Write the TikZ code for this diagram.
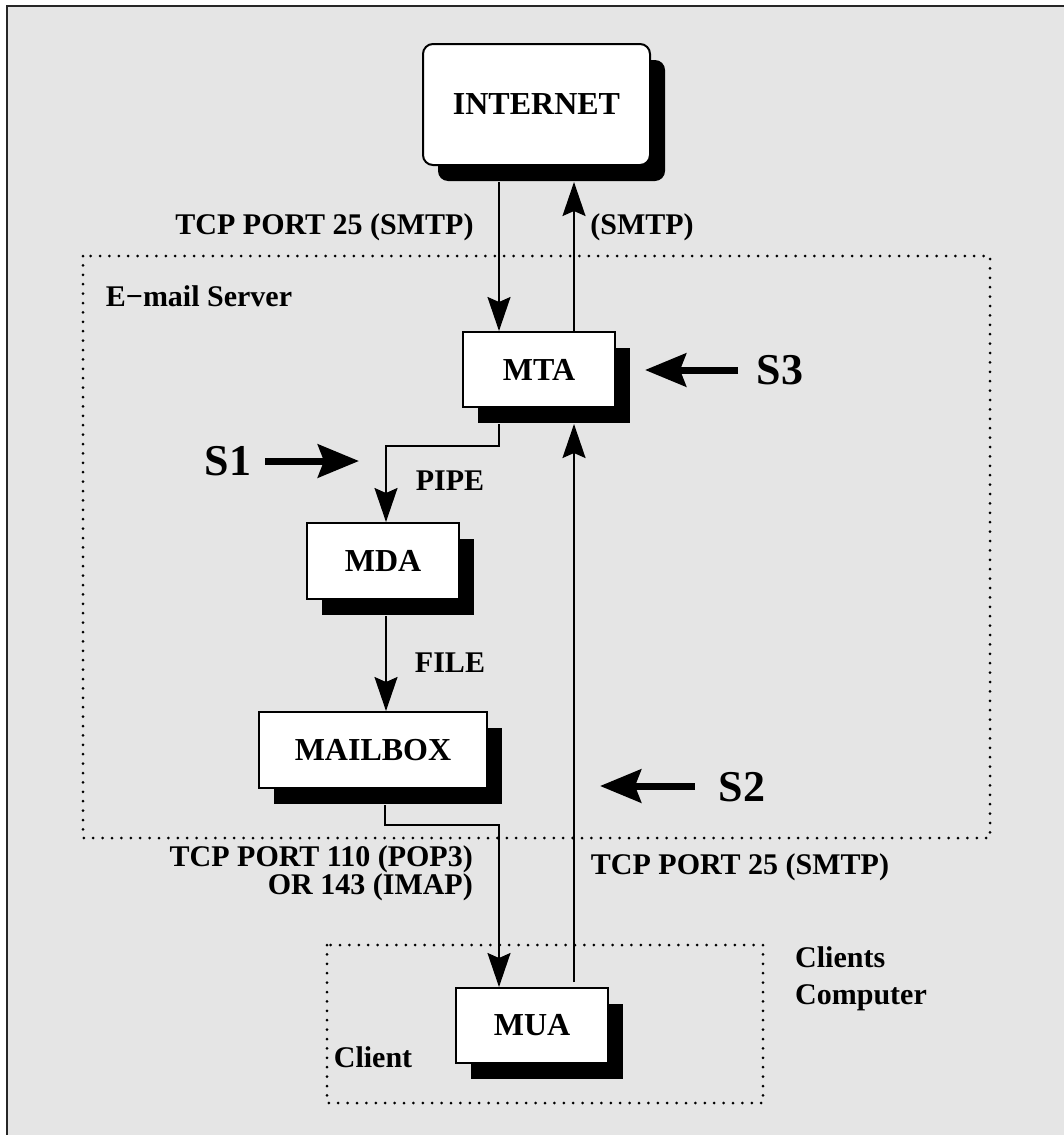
\documentclass[tikz,border=0pt]{standalone}
\usepackage{fontspec}
\setmainfont{Liberation Serif}
\usetikzlibrary{arrows.meta,shadows}
\definecolor{bg}{HTML}{E5E5E5}
\begin{document}
\begin{tikzpicture}[x=1pt,y=-1pt,
  box/.style={draw=black,line width=2pt,fill=white,
    font=\fontsize{32}{36}\selectfont\bfseries,
    minimum width=152pt,minimum height=76pt,inner sep=0pt,
    drop shadow={shadow xshift=15pt,shadow yshift=-16pt,fill=black,opacity=1,draw=none}},
  lbl/.style={font=\fontsize{30}{34}\selectfont\bfseries,inner sep=0pt},
  slbl/.style={font=\fontsize{44}{48}\selectfont\bfseries,inner sep=0pt},
  arr/.style={line width=2pt,-{Stealth[length=34pt,width=23pt,inset=5pt]}},
  sarr/.style={line width=7pt,-{Stealth[length=41pt,width=33pt,inset=6pt]}},
  dotbox/.style={line width=3pt,line cap=round,dash pattern=on 0pt off 9.4pt}
]
\useasboundingbox (0,0) rectangle (1064,1135);
\fill[bg] (7,6) rectangle (1064,1135);
\draw[line width=2.5pt,black!85] (7,1135) -- (7,6) -- (1064,6);

% dotted group frames
\draw[dotbox] (83,256) rectangle (990,838);
\draw[dotbox] (327,945) rectangle (763,1103);

% boxes
\node[box,rounded corners=10pt,minimum width=227pt,minimum height=121pt] (inet) at (536.5,104.5) {INTERNET};
\node[box,minimum height=75pt] (mta) at (539,369.5) {MTA};
\node[box] (mda) at (383,561) {MDA};
\node[box,minimum width=228pt] (mbox) at (373,750) {MAILBOX};
\node[box,minimum height=75pt] (mua) at (532,1025.5) {MUA};

% connectors
\draw[arr] ([xshift=-37.5pt,yshift=-16pt]inet.south) -- ([xshift=-40pt]mta.north);
\draw[arr] ([xshift=35pt]mta.north) -- ([xshift=37.5pt,yshift=-16pt]inet.south);
\draw[arr] ([xshift=-40pt,yshift=-16pt]mta.south) -- ++(0,22) -| ([xshift=3pt]mda.north);
\draw[arr] ([xshift=3pt,yshift=-16pt]mda.south) -- ([xshift=13pt]mbox.north);
\draw[arr] ([xshift=12pt,yshift=-16pt]mbox.south) -- ++(0,20) -| ([xshift=-33pt]mua.north);
\draw[arr] ([xshift=42pt,yshift=5pt]mua.north) -- ([xshift=35pt,yshift=-16pt]mta.south);

% labels
\node[lbl] (ltcp1) at (324.5,227) {TCP PORT 25 (SMTP)};
\node[lbl] (lsmtp) at (642,227) {(SMTP)};
\node[lbl] (lserver) at (199,296) {E−mail Server};
\node[lbl] (lpipe) at (450,481) {PIPE};
\node[lbl] (lfile) at (450,663) {FILE};
\node[lbl,align=right,anchor=east,font=\fontsize{30}{28}\selectfont\bfseries] (lpop) at (473,873) {TCP PORT 110 (POP3)\\OR 143 (IMAP)};
\node[lbl] (ltcp2) at (740,867) {TCP PORT 25 (SMTP)};
\node[lbl] (lclient) at (373,1057) {Client};
\node[lbl,align=left,anchor=west,font=\fontsize{30}{37}\selectfont\bfseries] (lcc) at (795,979) {Clients\\Computer};

% S markers
\node[slbl] (s1) at (228,461) {S1};
\node[slbl] (s2) at (742,787) {S2};
\node[slbl] (s3) at (780,370) {S3};
\coordinate (s1tip) at (359,461);
\coordinate (s2tip) at (600,786);
\coordinate (s3tip) at (645,370);
\draw[sarr] (265,461) -- (s1tip);
\draw[sarr] (695,786) -- (s2tip);
\draw[sarr] (738,370) -- (s3tip);
\end{tikzpicture}
\end{document}
